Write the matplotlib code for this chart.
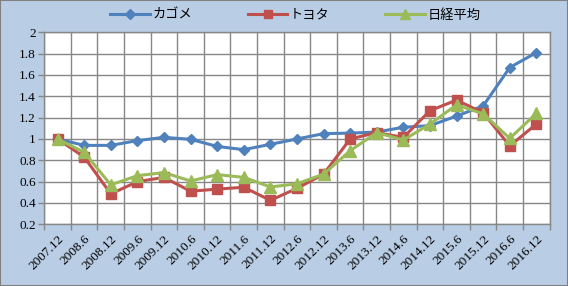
"""
Kagome / Toyota / Nikkei relative price chart (2007.12 = 1).
"""

import matplotlib

matplotlib.use("Agg")
import matplotlib.pyplot as plt
import numpy as np

plt.rcParams["font.family"] = ["Liberation Serif", "Noto Sans CJK JP"]

# Data
periods = [
    "2007.12", "2008.6", "2008.12", "2009.6", "2009.12", "2010.6", "2010.12",
    "2011.6", "2011.12", "2012.6", "2012.12", "2013.6", "2013.12", "2014.6",
    "2014.12", "2015.6", "2015.12", "2016.6", "2016.12",
]
kagome = [1.00, 0.94, 0.94, 0.985, 1.015, 0.997, 0.93, 0.90, 0.95, 1.00,
          1.05, 1.055, 1.065, 1.11, 1.125, 1.215, 1.31, 1.67, 1.81]
toyota = [1.00, 0.83, 0.485, 0.60, 0.64, 0.51, 0.53, 0.547, 0.425, 0.537,
          0.67, 1.00, 1.06, 1.015, 1.265, 1.365, 1.245, 0.935, 1.14]
nikkei = [1.00, 0.875, 0.57, 0.656, 0.685, 0.606, 0.666, 0.64, 0.55, 0.58,
          0.67, 0.89, 1.06, 0.99, 1.14, 1.32, 1.235, 1.006, 1.24]
series_names = ["カゴメ", "トヨタ", "日経平均"]

BG = "#B9CDE5"
GRID = "#878787"

fig = plt.figure(figsize=(5.68, 2.86), dpi=100, facecolor=BG)
ax = fig.add_axes([0.078, 0.2157, 0.8897, 0.6713])
ax.set_facecolor("white")

x = np.arange(len(periods))
ax.plot(x, kagome, color="#4F81BD", lw=2.2, marker="D", ms=5.5,
        label=series_names[0], zorder=3)
ax.plot(x, toyota, color="#C0504D", lw=2.2, marker="s", ms=7,
        label=series_names[1], zorder=4)
ax.plot(x, nikkei, color="#9BBB59", lw=2.2, marker="^", ms=8,
        label=series_names[2], zorder=5)

ax.set_xlim(-0.5, len(periods) - 0.5)
ax.set_ylim(0.2, 2.0)
ax.set_yticks(np.arange(0.2, 2.01, 0.2))
ax.set_yticklabels(["0.2", "0.4", "0.6", "0.8", "1", "1.2", "1.4", "1.6", "1.8", "2"])

ax.set_xticks(x)
ax.set_xticklabels(periods, rotation=45, ha="right", rotation_mode="anchor")
ax.set_xticks(np.arange(-0.5, len(periods)), minor=True)
ax.tick_params(axis="x", which="major", length=0, pad=6, labelsize=9.5)
ax.tick_params(axis="x", which="minor", length=4, color=GRID, width=1)
ax.tick_params(axis="y", length=4, color=GRID, width=1, labelsize=9.5, pad=2)

ax.grid(True, which="minor", axis="x", color=GRID, lw=1)
ax.grid(True, which="major", axis="y", color=GRID, lw=1)
ax.set_axisbelow(True)
for s in ax.spines.values():
    s.set_color(GRID)
    s.set_linewidth(1)

fig.legend(loc="upper center", bbox_to_anchor=(0.52, 1.01), ncol=3,
           frameon=False, fontsize=9.5, handlelength=3.0, columnspacing=4.2,
           handletextpad=0.2, markerscale=0.85)

# outer gray frame
fig.patches.append(plt.Rectangle((0, 0), 1, 1, transform=fig.transFigure,
                                 fill=False, edgecolor="#808080", lw=1.5))

fig.savefig("out.png", dpi=100, facecolor=BG)
